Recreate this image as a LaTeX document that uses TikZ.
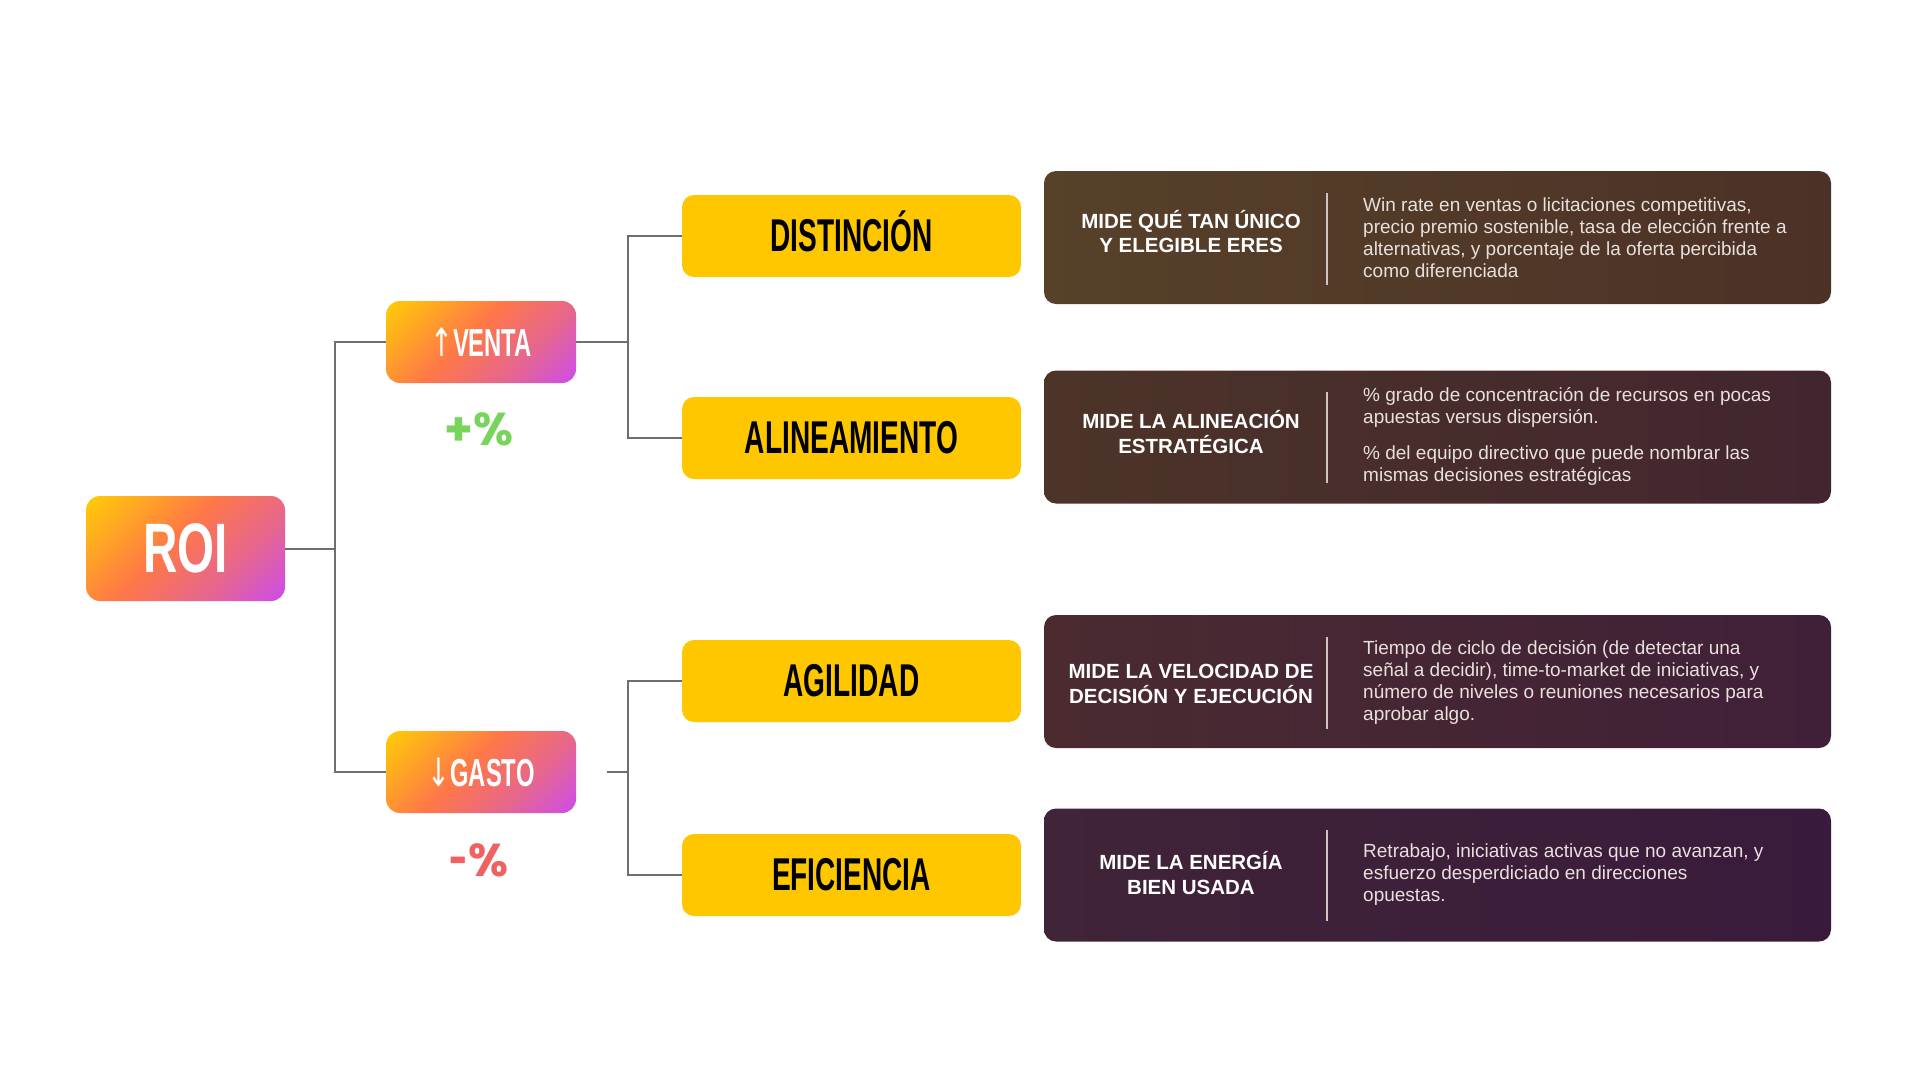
\documentclass[tikz,border=0pt]{standalone}
\usepackage{graphicx}
\usepackage{fontspec}
\setmainfont{Liberation Sans}
\newfontfamily\condfont[FakeStretch=0.61]{Liberation Sans}
\newfontfamily\roifont[FakeStretch=0.68]{Liberation Sans}
\newfontfamily\arrowfont[FakeStretch=0.7]{DejaVu Sans}
\newfontfamily\popfont{Poppins}
\definecolor{yel}{HTML}{FFC700}
\definecolor{linegray}{HTML}{6E6E6E}
\definecolor{bodytxt}{HTML}{E8E0DC}
\definecolor{divc}{HTML}{CFC4C0}
\definecolor{plusg}{HTML}{78D45A}
\definecolor{minusr}{HTML}{F06262}
\definecolor{bAl}{HTML}{574129}\definecolor{bAr}{HTML}{4C3127}
\definecolor{bBl}{HTML}{4D3428}\definecolor{bBr}{HTML}{42252F}
\definecolor{bCl}{HTML}{4B2B30}\definecolor{bCr}{HTML}{3F2038}
\definecolor{bDl}{HTML}{402437}\definecolor{bDr}{HTML}{3A1A3C}
\pgfdeclarehorizontalshading{roigrad}{100bp}{rgb(0bp)=(1,0.78,0.04); rgb(17bp)=(1,0.78,0.04); rgb(45bp)=(1,0.47,0.28); rgb(66bp)=(0.9,0.4,0.56); rgb(85bp)=(0.8,0.3,0.92); rgb(100bp)=(0.8,0.3,0.92)}
\tikzset{
  conn/.style={draw=linegray, line width=2pt},
  grad/.style={rounded corners=14pt, shading=roigrad, shading angle=-45, text=white, inner sep=0pt},
  ybox/.style={fill=yel, rounded corners=12pt, minimum width=339pt, minimum height=82pt, inner sep=0pt, text height=33pt, text depth=3pt, font=\condfont\bfseries\fontsize{46}{46}\selectfont},
  dbox/.style={rounded corners=12pt, minimum width=787pt, minimum height=133pt, inner sep=0pt},
  lbl/.style={text=white, align=center, inner sep=0pt, font=\bfseries\fontsize{20.5}{24.5}\selectfont},
  body/.style={text=bodytxt, align=left, anchor=west, inner sep=0pt, font=\fontsize{19}{22}\selectfont},
  divider/.style={draw=divc, line width=1.5pt},
  pct/.style={font=\popfont\bfseries\fontsize{46}{46}\selectfont}
}
\begin{document}
\begin{tikzpicture}[x=1pt,y=-1pt]
\useasboundingbox[fill=white] (0,0) rectangle (1920,1080);

% gradient nodes
\node[grad, minimum width=199pt, minimum height=105pt, text height=50pt, text depth=3pt, font=\roifont\bfseries\fontsize{70}{70}\selectfont] (roi) at (185.5,548.5) {ROI};
\node[grad, minimum width=190pt, minimum height=82pt, text height=28pt, text depth=0pt, font=\condfont\bfseries\fontsize{39}{39}\selectfont] (venta) at (481,342) {{\arrowfont\mdseries ↑}VENTA};
\node[grad, minimum width=190pt, minimum height=82pt, text height=28pt, text depth=0pt, font=\condfont\bfseries\fontsize{39}{39}\selectfont] (gasto) at (481,772) {{\arrowfont\mdseries ↓}GASTO};
\node[pct, text=plusg] (plus) at (479,429) {+\%};
\node[pct, text=minusr] (minus) at (479,860) {\scalebox{0.7}[1]{-}\%};

% yellow nodes
\node[ybox] (dist) at (851.5,236) {DISTINCIÓN};
\node[ybox] (alin) at (851.5,438) {ALINEAMIENTO};
\node[ybox] (agil) at (851.5,681) {AGILIDAD};
\node[ybox] (efic) at (851.5,875) {EFICIENCIA};

% connectors
\coordinate (j1) at (335,548.5);
\coordinate (j2) at (628,342);
\coordinate (g0) at (607,772);
\coordinate (j3) at (628,772);
\draw[conn] (roi.east) -- (j1) |- (venta.west);
\draw[conn] (j1) |- (gasto.west);
\draw[conn] (venta.east) -- (j2);
\draw[conn] (dist.west) -| (j2) |- (alin.west);
\draw[conn] (g0) -- (j3);
\draw[conn] (agil.west) -| (j3) |- (efic.west);

% dark boxes
\node[dbox, left color=bAl, right color=bAr] (m1) at (1437.5,237.5) {};
\node[dbox, left color=bBl, right color=bBr] (m2) at (1437.5,437) {};
\node[dbox, left color=bCl, right color=bCr] (m3) at (1437.5,681.5) {};
\node[dbox, left color=bDl, right color=bDr] (m4) at (1437.5,875) {};

\node[lbl] (l1) at (1191,231.5) {MIDE QUÉ TAN ÚNICO\\Y ELEGIBLE ERES};
\node[lbl] (l2) at (1191,432) {MIDE LA ALINEACIÓN\\ESTRATÉGICA};
\node[lbl] (l3) at (1191,684) {MIDE LA VELOCIDAD DE\\DECISIÓN Y EJECUCIÓN};
\node[lbl] (l4) at (1191,873) {MIDE LA ENERGÍA\\BIEN USADA};

\draw[divider] (1327,193) -- (1327,285);
\draw[divider] (1327,392) -- (1327,483);
\draw[divider] (1327,637) -- (1327,729);
\draw[divider] (1327,830) -- (1327,921);

\node[body] (t1) at (1363,237.5) {Win rate en ventas o licitaciones competitivas,\\precio premio sostenible, tasa de elección frente a\\alternativas, y porcentaje de la oferta percibida\\como diferenciada};
\node[body] (t2) at (1363,436) {\% grado de concentración de recursos en pocas\\apuestas versus dispersión.\\[14pt]\% del equipo directivo que puede nombrar las\\mismas decisiones estratégicas};
\node[body] (t3) at (1363,682) {Tiempo de ciclo de decisión (de detectar una\\señal a decidir), time-to-market de iniciativas, y\\número de niveles o reuniones necesarios para\\aprobar algo.};
\node[body] (t4) at (1363,874.5) {Retrabajo, iniciativas activas que no avanzan, y\\esfuerzo desperdiciado en direcciones\\opuestas.};
\end{tikzpicture}
\end{document}
